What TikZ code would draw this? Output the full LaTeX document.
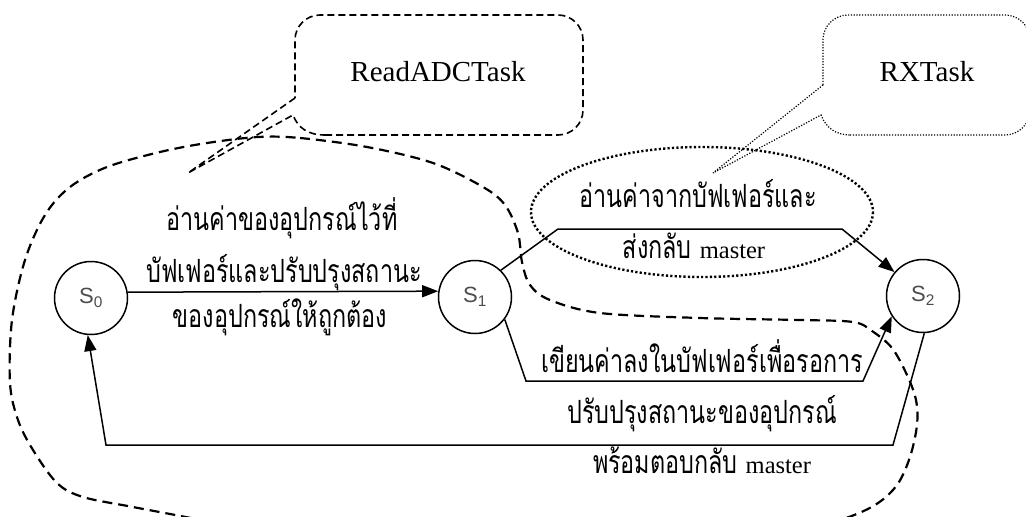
\documentclass[tikz,border=0pt]{standalone}
\usepackage{fontspec}
\setmainfont{Liberation Serif}
\newfontfamily\thaifont[Script=Thai]{Loma}
\newfontfamily\sansf{Liberation Sans}
\usetikzlibrary{arrows.meta}
\definecolor{sgray}{gray}{0.3}
\newcommand{\thx}[1]{\scalebox{0.73}[1]{\thaifont #1}}
\newcommand{\lat}[1]{{\rmfamily\fontsize{24.5}{28}\selectfont #1}}
\tikzset{
  state/.style={circle, draw, line width=1.5pt, minimum size=73pt, inner sep=0pt,
    font=\sansf\fontsize{22}{22}\selectfont, text=sgray},
  conn/.style={line width=1.5pt},
  arr/.style={conn, -{Triangle[length=16pt,width=12pt]}},
  thtext/.style={anchor=base, inner sep=0pt, font=\fontsize{32}{36}\selectfont},
  calltext/.style={inner sep=0pt, font=\rmfamily\fontsize{29}{32}\selectfont},
  bigdash/.style={line width=2.2pt, dash pattern=on 10pt off 6pt},
  calldash/.style={line width=1.6pt, dash pattern=on 7pt off 4pt},
  calldot/.style={line width=1.2pt, dash pattern=on 1.2pt off 1.6pt},
  regdot/.style={line width=2.4pt, dash pattern=on 2.2pt off 2.2pt},
}
\begin{document}
\begin{tikzpicture}[x=1pt,y=-1pt]
\useasboundingbox (0,0) rectangle (1026,517);
\clip (0,0) rectangle (1026,517);

% states
\node[state] (s0) at (91,298) {S\textsubscript{0}};
\node[state] (s1) at (475,297) {S\textsubscript{1}};
\node[state] (s2) at (923,296) {S\textsubscript{2}};

% bend coordinates
\coordinate (u1) at (558,229);
\coordinate (u2) at (842,229);
\coordinate (l1) at (526,381);
\coordinate (l2) at (863,381);
\coordinate (r1) at (893,445);
\coordinate (r2) at (106,445);

\draw[arr] (s0.9) -- (s1.171);
\draw[arr] (s1.46) -- (u1) -- (u2) -- (s2.140);
\draw[arr] (s1.-37) -- (l1) -- (l2) -- (s2.213);
\draw[arr] (s2.-88) -- (r1) -- (r2) -- (s0.265);

% labels
\node[thtext] (t1) at (282,230) {\thx{อ่านค่าของอุปกรณ์ไว้ที่}};
\node[thtext] (t2) at (284,282) {\thx{บัฟเฟอร์และปรับปรุงสถานะ}};
\node[thtext] (t3) at (280,327) {\thx{ของอุปกรณ์ให้ถูกต้อง}};
\node[thtext] (t4) at (698,207) {\thx{อ่านค่าจากบัฟเฟอร์และ}};
\node[thtext] (t5) at (694,258) {\thx{ส่งกลับ} \lat{master}};
\node[thtext] (t6) at (702,372) {\thx{เขียนค่าลงในบัฟเฟอร์เพื่อรอการ}};
\node[thtext] (t7) at (702,423) {\thx{ปรับปรุงสถานะของอุปกรณ์}};
\node[thtext] (t8) at (702,473) {\thx{พร้อมตอบกลับ} \lat{master}};

% callouts
\node[calltext] (c1) at (438,72) {ReadADCTask};
\node[calltext] (c2) at (927,72) {RXTask};
\draw[calldash, rounded corners=25pt] (325,135) -- (583,135) -- (583,15) -- (295,15) -- (295,98);
\draw[calldash] (295,98) -- (188,173) -- (293,115) .. controls (298,128) and (308,135) .. (325,135);
\draw[calldot, rounded corners=25pt] (850,135) -- (1030,135) -- (1030,15) -- (823,15) -- (823,85);
\draw[calldot] (823,85) -- (713,173) -- (821,115) .. controls (826,128) and (836,135) .. (850,135);

% regions
\draw[regdot] (702,212) ellipse [x radius=171, y radius=65];
\draw[bigdash] plot[smooth cycle, tension=0.55] coordinates {
 (258,137) (300,138) (367,147) (433,163) (483,187) (505,205) (518,233) (522,262)
 (530,285) (550,300) (600,313) (700,318) (800,320) (853,322) (872,331) (892,348)
 (907,375) (916,400) (917,425) (910,457) (897,485) (875,505) (840,520) (780,535)
 (520,548) (260,535) (200,520) (133,507) (83,497) (57,483) (33,450) (18,420)
 (10,383) (12,320) (25,260) (45,215) (70,187) (107,167) (160,152) (207,143) };
\end{tikzpicture}
\end{document}
